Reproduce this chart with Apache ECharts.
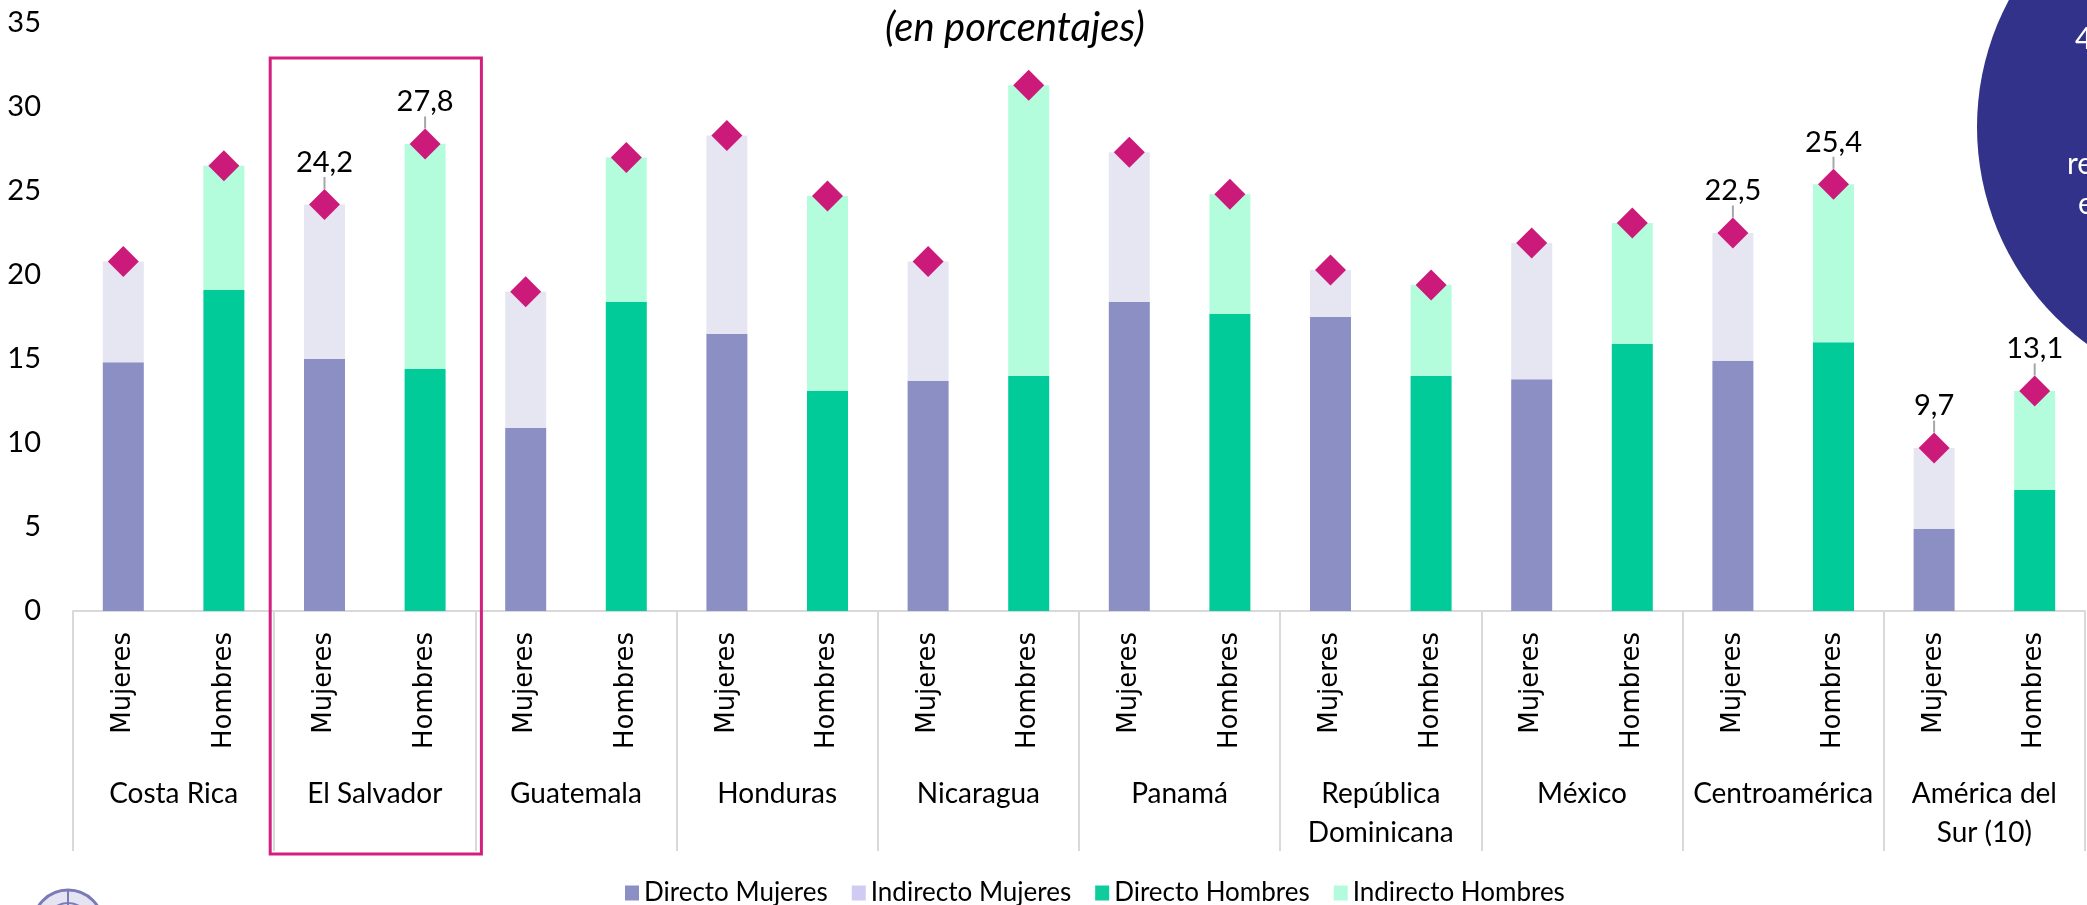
<!DOCTYPE html>
<html><head><meta charset="utf-8">
<script src="https://cdn.jsdelivr.net/npm/echarts@6/dist/echarts.min.js"></script>
<style>html,body{margin:0;padding:0;background:#fff}#c{width:2087px;height:905px}</style>
</head><body><div id="c"></div>
<script>
// ---- data ----
const countries = ['Costa Rica','El Salvador','Guatemala','Honduras','Nicaragua','Panamá','República\nDominicana','México','Centroamérica','América del\nSur (10)'];
const sexes = ['Mujeres','Hombres'];
const directoMujeres   = [14.8,15.0,10.9,16.5,13.7,18.4,17.5,13.8,14.9,4.9];
const indirectoMujeres = [6.0, 9.2, 8.1,11.8, 7.1, 8.9, 2.8, 8.1, 7.6,4.8];
const directoHombres   = [19.1,14.4,18.4,13.1,14.0,17.7,14.0,15.9,16.0,7.2];
const indirectoHombres = [7.4,13.4, 8.6,11.6,17.3, 7.1, 5.4, 7.2, 9.4,5.9];
const totalMujeres     = [20.8,24.2,19.0,28.3,20.8,27.3,20.3,21.9,22.5,9.7];
const totalHombres     = [26.5,27.8,27.0,24.7,31.3,24.8,19.4,23.1,25.4,13.1];
const labelledCountries = ['El Salvador','Centroamérica','América del\nSur (10)'];
const highlightedCountry = 'El Salvador';
const yMin = 0, yMax = 35, yStep = 5;
const seriesNames = ['Directo Mujeres','Indirecto Mujeres','Directo Hombres','Indirecto Hombres'];
const circleLines = ['4','re','e'];

// ---- build category / series data ----
const catKeys = [];
countries.forEach(c => sexes.forEach(s => catKeys.push(c + '|' + s)));
function interleave(mArr, hArr) {
  const out = [];
  countries.forEach((c, i) => { out.push(mArr ? mArr[i] : null); out.push(hArr ? hArr[i] : null); });
  return out;
}
const totals = interleave(totalMujeres, totalHombres).map((v, k) => {
  const c = countries[Math.floor(k / 2)];
  return labelledCountries.includes(c) ? {value: v, label: {show: true}} : {value: v};
});

const colors = ['#8b8fc4','#e6e6f2','#02cb9a','#b3fddd'];
const legendColors = ['#8b8fc4','#d0cbf2','#0fcc9c','#b3fbdc'];
const barData = [
  interleave(directoMujeres, null),
  interleave(indirectoMujeres, null),
  interleave(null, directoHombres),
  interleave(null, indirectoHombres)
];

const chart = echarts.init(document.getElementById('c'), null, {renderer: 'canvas'});
const option = {
  animation: false,
  backgroundColor: '#fff',
  grid: {left: 73, right: 2, top: 23, bottom: 294, containLabel: false},
  legend: {
    left: 620, top: 875, icon: 'rect', itemWidth: 14, itemHeight: 15, itemGap: 24,
    textStyle: {fontFamily: 'Lato', fontSize: 26, color: '#000'},
    data: seriesNames.map((n, i) => ({name: n, itemStyle: {color: legendColors[i]}}))
  },
  xAxis: [{
    type: 'category', data: catKeys,
    axisLine: {lineStyle: {color: '#d9d9d9', width: 2}},
    axisTick: {show: false},
    axisLabel: {rotate: 90, interval: 0, margin: 21, fontFamily: 'DejaVu Sans', fontSize: 26, color: '#000',
      formatter: v => v.split('|')[1]}
  }, {
    type: 'category', data: countries, position: 'bottom',
    axisLine: {show: false},
    axisTick: {show: true, length: 240, interval: 0, lineStyle: {color: '#d9d9d9', width: 2}},
    axisLabel: {interval: 0, margin: 163, fontFamily: 'Lato', fontSize: 28, lineHeight: 39, color: '#000'}
  }],
  yAxis: {
    type: 'value', min: yMin, max: yMax, interval: yStep,
    axisLine: {show: false}, axisTick: {show: false}, splitLine: {show: false},
    axisLabel: {fontFamily: 'Lato', fontSize: 29, color: '#000', margin: 32}
  },
  series: seriesNames.map((n, i) => ({
    name: n, type: 'bar', stack: 'total', barWidth: 41, data: barData[i],
    itemStyle: {color: colors[i]}
  })).concat([{
    name: 'Total', type: 'scatter', symbol: 'diamond', symbolSize: 31, data: totals, z: 5,
    itemStyle: {color: '#cc1a7a', opacity: 1},
    label: {show: false, position: 'inside', fontFamily: 'Lato', fontSize: 29, color: '#000',
      formatter: p => String(p.value).replace('.', ',')},
    labelLayout: {dy: -42},
    labelLine: {show: true, lineStyle: {color: '#a6a6a6', width: 2}}
  }])
};
chart.setOption(option);

// annotation graphics
const hi = countries.indexOf(highlightedCountry);
const a = chart.convertToPixel({xAxisIndex: 0}, catKeys[hi * 2]);
const b = chart.convertToPixel({xAxisIndex: 0}, catKeys[hi * 2 + 1]);
const band = b - a;
const boxL = a - band / 2 - 4, boxR = b + band / 2 + 6;
chart.setOption({
  graphic: [
    {type: 'rect', shape: {x: boxL, y: 58, width: boxR - boxL, height: 796},
      style: {fill: 'none', stroke: '#d41f7f', lineWidth: 3}, z: 10},
    {type: 'text', x: 1015, y: 28, style: {text: '(en porcentajes)', font: 'italic 40px Lato', fill: '#000', align: 'center', verticalAlign: 'middle'}},
    {type: 'circle', shape: {cx: 2246, cy: 127, r: 269}, style: {fill: '#32328a'}, z: 1},
    {type: 'text', x: 2075, y: 39, style: {text: circleLines[0], font: '30px Lato', fill: '#fff', align: 'left', verticalAlign: 'middle'}, z: 2},
    {type: 'text', x: 2067, y: 164, style: {text: circleLines[1], font: '30px Lato', fill: '#fff', align: 'left', verticalAlign: 'middle'}, z: 2},
    {type: 'text', x: 2078, y: 204, style: {text: circleLines[2], font: '30px Lato', fill: '#fff', align: 'left', verticalAlign: 'middle'}, z: 2},
    {type: 'circle', shape: {cx: 68, cy: 925, r: 35}, style: {fill: '#e4e4f2', stroke: '#7a7ab8', lineWidth: 3}},
    {type: 'circle', shape: {cx: 68, cy: 925, r: 22}, style: {fill: 'none', stroke: '#7a7ab8', lineWidth: 2}},
    {type: 'line', shape: {x1: 68, y1: 890, x2: 68, y2: 905}, style: {stroke: '#7a7ab8', lineWidth: 2}}
  ]
});
</script></body></html>
